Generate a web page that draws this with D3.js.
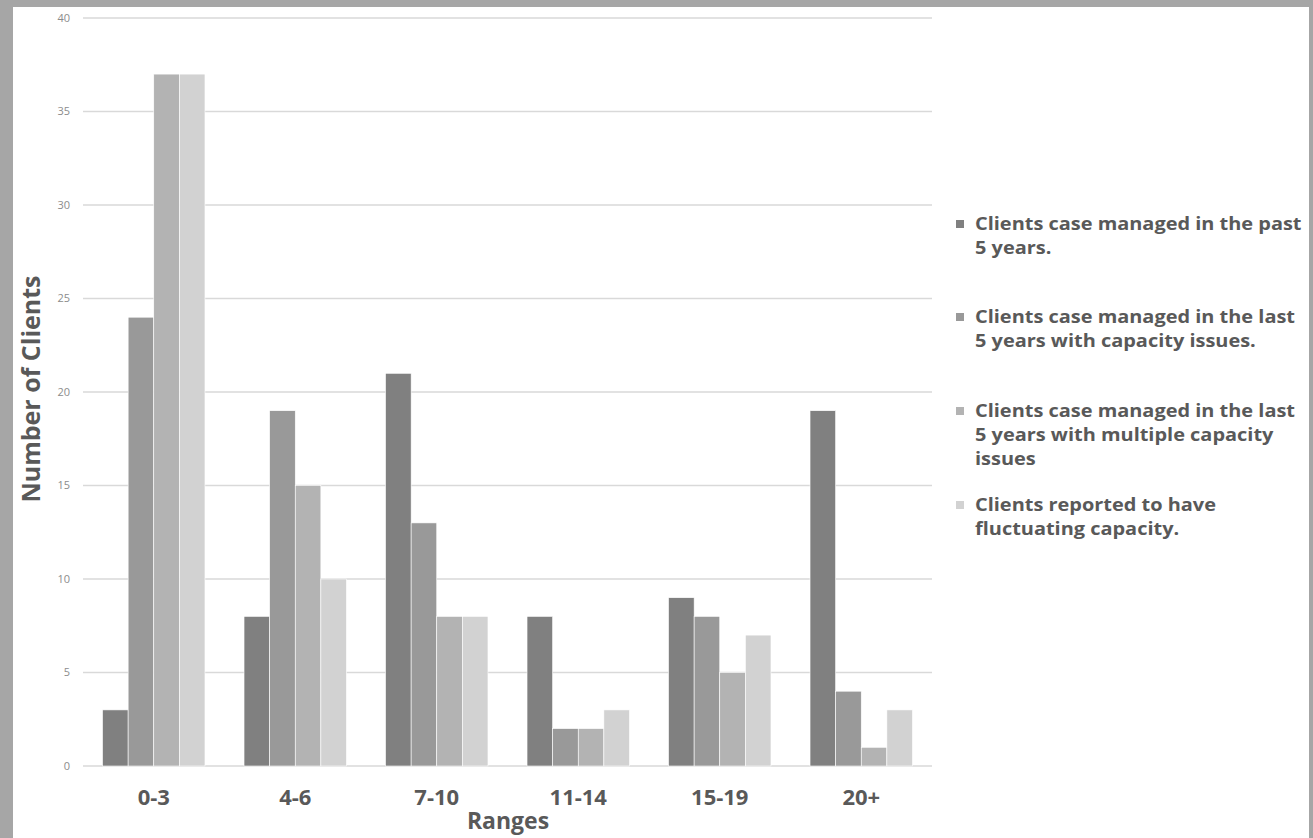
<!DOCTYPE html>
<html lang="en">
<head>
  <meta charset="UTF-8">
  <title>Number of Clients by Range</title>
  <script src="https://d3js.org/d3.v7.min.js"></script>
  <style>
    html, body { margin: 0; padding: 0; background: #a6a6a6; }
    svg { display: block; }
    .tick-label { font-family: "Open Sans", sans-serif; font-size: 11px; fill: #8c8c8c; }
    .cat-label { font-family: "Open Sans", sans-serif; font-weight: bold; font-size: 22px; fill: #595959; }
    .axis-title { font-family: "Open Sans", sans-serif; font-weight: bold; font-size: 25px; fill: #595959; }
    .legend-text { font-family: "Open Sans", sans-serif; font-weight: bold; font-size: 17.5px; fill: #595959; }
  </style>
</head>
<body>
  <div id="chart"></div>
  <script>
    // data
    const categories = ["0-3", "4-6", "7-10", "11-14", "15-19", "20+"];
    const seriesNames = [
      ["Clients case managed in the past", "5 years."],
      ["Clients case managed in the last", "5 years with capacity issues."],
      ["Clients case managed in the last", "5 years with multiple capacity", "issues"],
      ["Clients reported to have", "fluctuating capacity."]
    ];
    const pastFive = [3, 8, 21, 8, 9, 19];
    const withCapacity = [24, 19, 13, 2, 8, 4];
    const multipleCapacity = [37, 15, 8, 2, 5, 1];
    const fluctuating = [37, 10, 8, 3, 7, 3];
    const yTicks = [0, 5, 10, 15, 20, 25, 30, 35, 40];
    const colors = ["#808080", "#999999", "#b3b3b3", "#d2d2d2"];

    const series = [pastFive, withCapacity, multipleCapacity, fluctuating];

    const W = 1313, H = 838;
    const plot = { left: 83, right: 932, top: 18, bottom: 766 };

    const svg = d3.select("#chart")
      .append("svg")
      .attr("width", W)
      .attr("height", H);

    // white panel inside the grey frame
    svg.append("rect")
      .attr("x", 13).attr("y", 7)
      .attr("width", 1309 - 13).attr("height", H - 7)
      .attr("fill", "#ffffff");

    const x = d3.scaleBand()
      .domain(categories)
      .range([plot.left, plot.right])
      .paddingInner(0.276)
      .paddingOuter(0.138);

    const xSub = d3.scaleBand()
      .domain(d3.range(series.length))
      .range([0, x.bandwidth()]);

    const y = d3.scaleLinear()
      .domain([0, 40])
      .range([plot.bottom, plot.top]);

    // gridlines
    svg.append("g")
      .selectAll("line")
      .data(yTicks)
      .join("line")
      .attr("x1", plot.left)
      .attr("x2", plot.right)
      .attr("y1", d => y(d))
      .attr("y2", d => y(d))
      .attr("stroke", "#d9d9d9")
      .attr("stroke-width", 1.3);

    // y tick labels
    svg.append("g")
      .selectAll("text")
      .data(yTicks)
      .join("text")
      .attr("class", "tick-label")
      .attr("x", 70)
      .attr("y", d => y(d))
      .attr("dy", "0.35em")
      .attr("text-anchor", "end")
      .text(d => d);

    // bars
    const groups = svg.append("g")
      .selectAll("g")
      .data(categories)
      .join("g")
      .attr("transform", d => `translate(${x(d)},0)`);

    groups.selectAll("rect")
      .data((c, ci) => series.map((s, si) => ({ si, v: s[ci] })))
      .join("rect")
      .attr("x", d => xSub(d.si))
      .attr("width", xSub.bandwidth())
      .attr("y", d => y(d.v))
      .attr("height", d => y(0) - y(d.v))
      .attr("fill", d => colors[d.si])
      .attr("stroke", "#ffffff")
      .attr("stroke-width", 0.6);

    // category labels
    svg.append("g")
      .selectAll("text")
      .data(categories)
      .join("text")
      .attr("class", "cat-label")
      .attr("x", d => x(d) + x.bandwidth() / 2)
      .attr("y", 797)
      .attr("dy", "0.35em")
      .attr("text-anchor", "middle")
      .text(d => d);

    // axis titles
    svg.append("text")
      .attr("class", "axis-title")
      .attr("x", 508)
      .attr("y", 821)
      .attr("dy", "0.35em")
      .attr("text-anchor", "middle")
      .style("font-size", "23px")
      .text("Ranges");

    svg.append("text")
      .attr("class", "axis-title")
      .attr("transform", "translate(31,389) rotate(-90)")
      .attr("dy", "0.35em")
      .attr("text-anchor", "middle")
      .text("Number of Clients");

    // legend (text slightly widened like the original)
    const legendTop = [224, 317, 411, 505];
    const legend = svg.append("g");
    seriesNames.forEach((lines, i) => {
      legend.append("rect")
        .attr("x", 956)
        .attr("y", legendTop[i] - 4)
        .attr("width", 8)
        .attr("height", 8)
        .attr("fill", colors[i]);
      const item = legend.append("g")
        .attr("transform", `translate(975,${legendTop[i]}) scale(1.14,1)`);
      lines.forEach((t, j) => {
        item.append("text")
          .attr("class", "legend-text")
          .attr("x", 0)
          .attr("y", j * 24)
          .attr("dy", "0.35em")
          .text(t);
      });
    });
  </script>
</body>
</html>
